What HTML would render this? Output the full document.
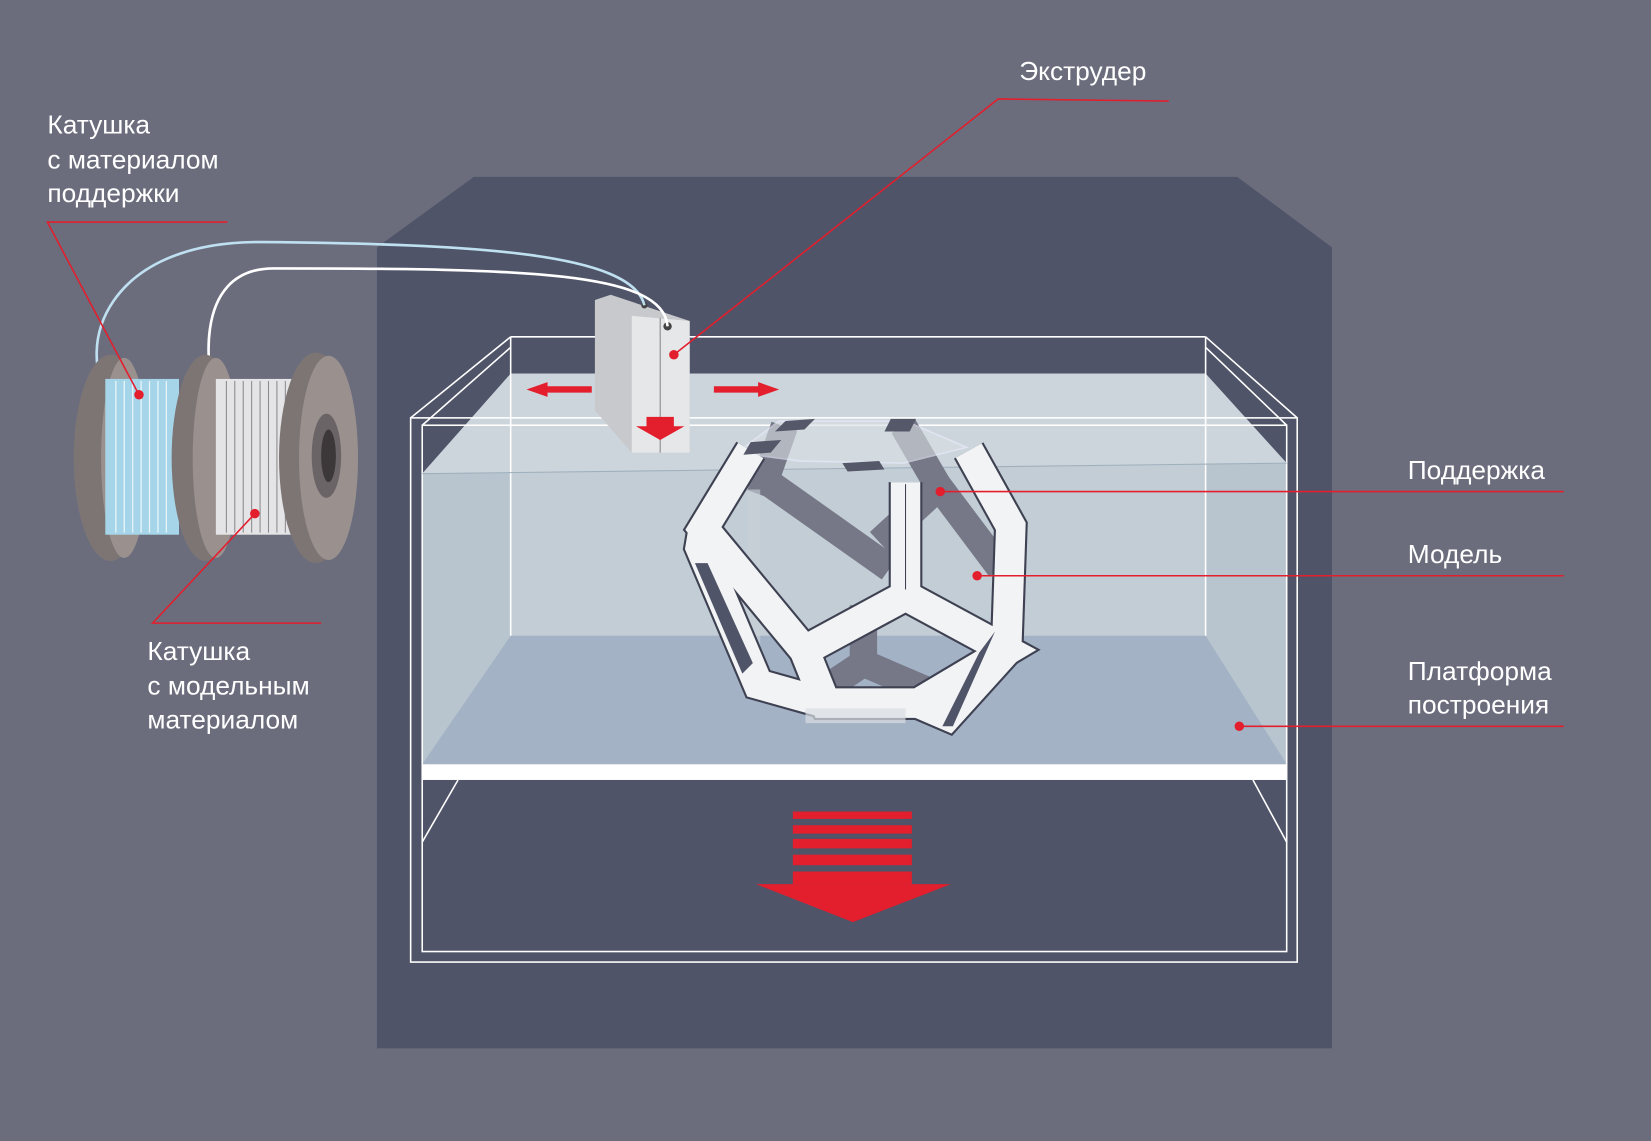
<!DOCTYPE html>
<html><head><meta charset="utf-8"><style>
html,body{margin:0;padding:0;background:#6b6d7d;}
svg{display:block}
text{font-family:"Liberation Sans",sans-serif;fill:#fff;font-size:25px}
</style></head><body>
<svg width="1651" height="1141" viewBox="0 0 1568 1084" preserveAspectRatio="none" xmlns="http://www.w3.org/2000/svg">
<rect width="1568" height="1084" fill="#6b6d7d"/>
<polygon points="358,235 450,168 1175,168 1265,235 1265,996 358,996" fill="#4f5468"/>
<rect x="401" y="404" width="821" height="500" fill="#4f5468"/>
<polygon points="401,450 485,355 1145,355 1222,440 1222,726 401,726" fill="#b8c5ce"/>
<polygon points="485,355 1145,355 1145,604 485,604" fill="#c3cdd5"/>
<polygon points="401,450 485,355 1145,355 1222,440" fill="#ccd5dc"/>
<polygon points="401,726 485,604 1145,604 1222,726" fill="#a3b2c5"/>
<rect x="401" y="726" width="821" height="15" fill="#fff"/>
<g stroke="#fff" stroke-width="1.5" fill="none">
<rect x="390" y="397" width="842" height="517"/>
<rect x="401" y="404" width="821" height="500"/>
<line x1="485" y1="320" x2="1145" y2="320"/>
<line x1="485" y1="320" x2="390" y2="397"/><line x1="485" y1="330" x2="401" y2="404"/>
<line x1="1145" y1="320" x2="1232" y2="397"/><line x1="1145" y1="330" x2="1222" y2="404"/>
<line x1="485" y1="320" x2="485" y2="604"/><line x1="1145" y1="320" x2="1145" y2="604"/>
<line x1="401" y1="800" x2="435" y2="741"/><line x1="1222" y1="800" x2="1190" y2="741"/>
</g>
<line x1="401" y1="450" x2="1222" y2="440" stroke="#9fb0bd" stroke-width="1"/>
<g fill="#e31e2d">
<rect x="753" y="771" width="113" height="7"/><rect x="753" y="784" width="113" height="8"/>
<rect x="753" y="797" width="113" height="9"/><rect x="753" y="812" width="113" height="10"/>
<rect x="753" y="828" width="113" height="12"/>
<polygon points="718,840 903,840 810,876"/>
</g>
<g stroke-linejoin="miter" stroke-linecap="butt" fill="none">
<g stroke="#767888" stroke-width="26">
<line x1="745" y1="405" x2="722" y2="470"/>
<line x1="725" y1="455" x2="845" y2="540"/>
<line x1="858" y1="405" x2="890" y2="460"/>
<line x1="900" y1="455" x2="835" y2="515"/>
<line x1="890" y1="460" x2="950" y2="540"/>
<line x1="820" y1="575" x2="820" y2="630"/>
<line x1="820" y1="630" x2="760" y2="670"/>
<line x1="820" y1="630" x2="890" y2="660"/>
</g>
<polygon points="710,465 722,465 722,620 710,620" fill="#c9d0d7" stroke="none" opacity="0.6"/>
<polygon points="700,430 740,400 860,400 918,425 858,440 760,438" stroke="#eef" stroke-width="1.5" fill="#d9e0e5" opacity="0.6"/>
<g stroke="#3e4152" stroke-width="32">
<polyline points="860,458 860,566"/>
<polygon points="860,566 764,618 784,668 872,668 956,618"/>
<polyline points="764,618 668,502 713,428"/>
<polyline points="956,618 960,500 920,428"/>
<polyline points="668,502 665,520 720,650 784,668"/>
<polyline points="956,618 900,680 872,668"/>
</g>
<g stroke="#f2f3f4" stroke-width="28">
<polyline points="860,458 860,566"/>
<polygon points="860,566 764,618 784,668 872,668 956,618"/>
<polyline points="764,618 668,502 713,428"/>
<polyline points="956,618 960,500 920,428"/>
<polyline points="668,502 665,520 720,650 784,668"/>
<polyline points="956,618 900,680 872,668"/>
</g>
<line x1="860" y1="460" x2="860" y2="560" stroke="#3e4152" stroke-width="1"/>
<polygon points="660,535 672,535 715,630 705,640" fill="#4f5468" stroke="none"/>
<polygon points="713,420 742,418 732,430 706,432" fill="#555868" stroke="none"/>
<polygon points="746,400 774,398 764,408 736,410" fill="#555868" stroke="none"/>
<polygon points="846,398 870,398 864,410 840,410" fill="#555868" stroke="none"/>
<polygon points="800,440 835,438 840,446 805,448" fill="#555868" stroke="none"/>
<polygon points="930,620 945,600 905,690 895,690" fill="#4f5468" stroke="none"/>
<rect x="765" y="673" width="95" height="14" fill="#d8dde2" stroke="none" opacity="0.7"/>
</g>
<polygon points="565,285 580,280 655,305 655,430 600,430 565,390" fill="#c8c9cc"/>
<polygon points="600,300 655,305 655,430 600,430" fill="#e6e7e9"/>
<line x1="627" y1="302" x2="627" y2="430" stroke="#888" stroke-width="1"/>
<circle cx="612" cy="290" r="3" fill="#444"/><circle cx="634" cy="310" r="4" fill="#444"/>
<polygon points="614,396 640,396 640,405 650,405 627,418 604,405 614,405" fill="#e31e2d"/>
<polygon points="500,370 520,363 520,367 562,367 562,373 520,373 520,377" fill="#e31e2d"/>
<polygon points="740,370 720,363 720,367 678,367 678,373 720,373 720,377" fill="#e31e2d"/>
<path d="M612,290 C600,240 450,232 250,230 C100,228 70,330 105,380 L160,465" fill="none" stroke="#bfe0f0" stroke-width="2.5"/>
<path d="M634,310 C630,258 500,255 260,255 C180,255 195,360 210,400 L268,470" fill="none" stroke="#fff" stroke-width="2.5"/>
<g>
<ellipse cx="105" cy="435" rx="35" ry="98" fill="#7d7574"/>
<ellipse cx="118" cy="435" rx="22" ry="95" fill="#9a918f"/>
<rect x="100" y="360" width="70" height="148" fill="#a6d5ea"/>
<g stroke="#e8f6fc" stroke-width="1.2">
<line x1="110" y1="362" x2="110" y2="506"/><line x1="118" y1="362" x2="118" y2="506"/><line x1="126" y1="362" x2="126" y2="506"/><line x1="134" y1="362" x2="134" y2="506"/><line x1="142" y1="362" x2="142" y2="506"/><line x1="150" y1="362" x2="150" y2="506"/><line x1="158" y1="362" x2="158" y2="506"/>
</g>
<ellipse cx="195" cy="435" rx="32" ry="98" fill="#7d7574"/>
<ellipse cx="205" cy="435" rx="22" ry="95" fill="#9a918f"/>
<rect x="205" y="360" width="72" height="148" fill="#e4e4e6"/>
<g stroke="#8a8a8e" stroke-width="1">
<line x1="215" y1="362" x2="215" y2="506"/><line x1="223" y1="362" x2="223" y2="506"/><line x1="231" y1="362" x2="231" y2="506"/><line x1="239" y1="362" x2="239" y2="506"/><line x1="247" y1="362" x2="247" y2="506"/><line x1="255" y1="362" x2="255" y2="506"/><line x1="263" y1="362" x2="263" y2="506"/><line x1="271" y1="362" x2="271" y2="506"/>
</g>
<ellipse cx="300" cy="435" rx="35" ry="100" fill="#7d7574"/>
<ellipse cx="312" cy="435" rx="28" ry="97" fill="#9a918f"/>
<ellipse cx="310" cy="433" rx="14" ry="40" fill="#6b6466"/>
<ellipse cx="312" cy="433" rx="7" ry="25" fill="#3c3839"/>
</g>
<g stroke="#e31e2d" stroke-width="1.5" fill="none">
<polyline points="1110,96 948,94 640,337"/>
<polyline points="216,211 45,211 132,375"/>
<polyline points="305,592 145,592 242,488"/>
<line x1="893" y1="467" x2="1485" y2="467"/>
<line x1="928" y1="547" x2="1485" y2="547"/>
<line x1="1177" y1="690" x2="1485" y2="690"/>
</g>
<g fill="#e31e2d">
<circle cx="640" cy="337" r="4.5"/><circle cx="132" cy="375" r="4.5"/><circle cx="242" cy="488" r="4.5"/>
<circle cx="893" cy="467" r="4.5"/><circle cx="928" cy="547" r="4.5"/><circle cx="1177" cy="690" r="4.5"/>
</g>
<text x="968" y="76">Экструдер</text>
<text x="45" y="127">Катушка</text>
<text x="45" y="160">с материалом</text>
<text x="45" y="192">поддержки</text>
<text x="140" y="627">Катушка</text>
<text x="140" y="660">с модельным</text>
<text x="140" y="692">материалом</text>
<text x="1337" y="455">Поддержка</text>
<text x="1337" y="535">Модель</text>
<text x="1337" y="646">Платформа</text>
<text x="1337" y="678">построения</text>
</svg>
</body></html>
